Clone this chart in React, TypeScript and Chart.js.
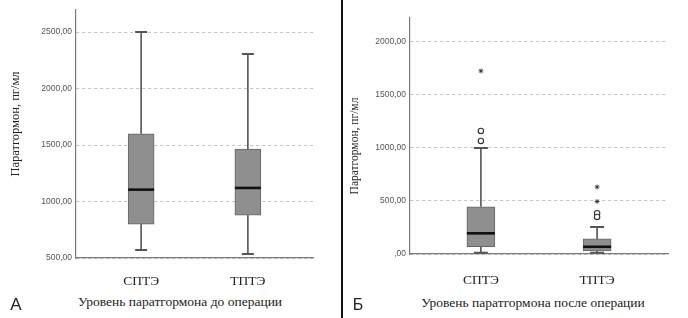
import React, { useEffect, useRef } from 'react';
import { Chart, registerables } from 'chart.js';

Chart.register(...registerables);

// ---------- data ----------
const categories = ['СПТЭ', 'ТПТЭ'];

// Panel A: before surgery
const beforeMin = [570, 535];
const beforeQ1 = [800, 880];
const beforeMedian = [1105, 1120];
const beforeQ3 = [1600, 1465];
const beforeMax = [2500, 2305];
const beforeTicks = [500, 1000, 1500, 2000, 2500];

// Panel Б: after surgery
const afterMin = [12, 12];
const afterQ1 = [70, 30];
const afterMedian = [195, 68];
const afterQ3 = [445, 142];
const afterMax = [1000, 255];
const afterCircles = [[1160, 1066], [385, 350]];
const afterStars = [[1726], [632, 495]];
const afterTicks = [0, 500, 1000, 1500, 2000];

const titleA = 'Уровень паратгормона до операции';
const titleB = 'Уровень паратгормона после операции';
const yTitle = 'Паратгормон, пг/мл';

// ---------- helpers ----------
const fmt = (v: number) => (v === 0 ? ',00' : v.toFixed(2).replace('.', ','));

const boxPlugin = {
  id: 'boxWhiskers',
  beforeDatasetsDraw(chart: any) {
    const o = chart.options.plugins.boxWhiskers;
    const { ctx } = chart;
    const x = chart.scales.x;
    const y = chart.scales.y;
    ctx.save();
    ctx.strokeStyle = '#555';
    o.min.forEach((_: number, i: number) => {
      const px = x.getPixelForValue(i + 1);
      const yMin = y.getPixelForValue(o.min[i]);
      const yQ1 = y.getPixelForValue(o.q1[i]);
      const yQ3 = y.getPixelForValue(o.q3[i]);
      const yMax = y.getPixelForValue(o.max[i]);
      ctx.lineWidth = 1.6;
      ctx.beginPath();
      ctx.moveTo(px, yQ3);
      ctx.lineTo(px, yMax);
      ctx.moveTo(px, yQ1);
      ctx.lineTo(px, yMin);
      ctx.stroke();
      ctx.lineWidth = 2;
      ctx.beginPath();
      ctx.moveTo(px - o.cap / 2, yMax);
      ctx.lineTo(px + o.cap / 2, yMax);
      ctx.moveTo(px - o.cap / 2, yMin);
      ctx.lineTo(px + o.cap / 2, yMin);
      ctx.stroke();
    });
    ctx.restore();
  },
  afterDatasetsDraw(chart: any) {
    const o = chart.options.plugins.boxWhiskers;
    const { ctx } = chart;
    const x = chart.scales.x;
    const y = chart.scales.y;
    ctx.save();
    ctx.strokeStyle = '#111';
    ctx.lineWidth = 2.6;
    o.median.forEach((m: number, i: number) => {
      const px = x.getPixelForValue(i + 1);
      const py = y.getPixelForValue(m);
      ctx.beginPath();
      ctx.moveTo(px - o.box / 2, py);
      ctx.lineTo(px + o.box / 2, py);
      ctx.stroke();
    });
    ctx.restore();
  },
};

function makeConfig(p: any) {
  const datasets: any[] = [
    {
      type: 'bar',
      data: categories.map((_, i) => ({ x: i + 1, y: [p.q1[i], p.q3[i]] })),
      backgroundColor: '#8f8f8f',
      borderColor: '#666',
      borderWidth: 1,
      borderSkipped: false,
      barThickness: p.box,
      order: 2,
    },
  ];
  if (p.circles) {
    datasets.push({
      type: 'scatter',
      data: p.circles.flatMap((arr: number[], i: number) => arr.map((v) => ({ x: i + 1, y: v }))),
      pointStyle: 'circle',
      pointRadius: 2.7,
      borderColor: '#333',
      backgroundColor: '#fff',
      borderWidth: 1.1,
      order: 1,
    });
    datasets.push({
      type: 'scatter',
      data: p.stars.flatMap((arr: number[], i: number) => arr.map((v) => ({ x: i + 1, y: v }))),
      pointStyle: 'star',
      pointRadius: 2.4,
      borderColor: '#333',
      backgroundColor: '#333',
      borderWidth: 0.9,
      order: 1,
    });
  }
  return {
    type: 'bar',
    data: { datasets },
    plugins: [boxPlugin],
    options: {
      responsive: false,
      animation: false,
      layout: { padding: { left: 0, right: p.padRight, top: p.padTop, bottom: 0 } },
      plugins: {
        legend: { display: false },
        tooltip: { enabled: false },
        boxWhiskers: {
          min: p.min, q1: p.q1, median: p.median, q3: p.q3, max: p.max,
          cap: p.cap, box: p.box,
        },
      },
      scales: {
        x: {
          type: 'linear',
          offset: false,
          min: 0.39,
          max: 2.61,
          grid: { display: false, offset: false },
          border: { display: true, color: '#7a7a7a', width: 1.2 },
          afterBuildTicks: (s: any) => {
            s.ticks = categories.map((_, i) => ({ value: i + 1 }));
          },
          afterFit: (s: any) => {
            s.height = p.xHeight;
          },
          ticks: {
            callback: (v: number) => categories[Math.round(v) - 1] ?? '',
            font: { family: 'Liberation Serif', size: 13.5 },
            color: '#222',
            padding: p.xPad,
            maxRotation: 0,
            autoSkip: false,
          },
        },
        y: {
          type: 'linear',
          min: p.yMin,
          max: p.yMax,
          afterBuildTicks: (s: any) => {
            s.ticks = p.ticks.map((v: number) => ({ value: v }));
          },
          afterFit: (s: any) => {
            s.width = p.yWidth;
          },
          grid: { color: '#c2c2c2', drawTicks: false, lineWidth: 1 },
          border: { display: true, color: '#7a7a7a', width: 1.2, dash: [3, 3] },
          ticks: {
            callback: (v: number) => fmt(v),
            font: { family: 'Liberation Sans', size: 8.5 },
            color: '#555',
            padding: 4,
          },
        },
      },
    },
  };
}

function BoxChart({ params, left, width, height }: any) {
  const ref = useRef<HTMLCanvasElement | null>(null);
  useEffect(() => {
    const c = new Chart(ref.current as any, makeConfig(params) as any);
    return () => c.destroy();
  }, []);
  return (
    <canvas
      ref={ref}
      width={width}
      height={height}
      style={{ position: 'absolute', left, top: 0, width, height }}
    />
  );
}

const serif = '"Liberation Serif", serif';
const sans = '"Liberation Sans", Arial, sans-serif';

export default function App() {
  const paramsA = {
    min: beforeMin, q1: beforeQ1, median: beforeMedian, q3: beforeQ3, max: beforeMax,
    ticks: beforeTicks, yMin: 500, yMax: 2695,
    box: 26, cap: 12, padRight: 27, padTop: 10, yWidth: 76, xHeight: 32, xPad: 7,
  };
  const paramsB = {
    min: afterMin, q1: afterQ1, median: afterMedian, q3: afterQ3, max: afterMax,
    circles: afterCircles, stars: afterStars,
    ticks: afterTicks, yMin: 0, yMax: 2225,
    box: 28, cap: 14, padRight: 20, padTop: 18, yWidth: 65, xHeight: 36, xPad: 10,
  };
  const textBase: any = { position: 'absolute', whiteSpace: 'nowrap', color: '#222', lineHeight: 1 };
  return (
    <div style={{ position: 'absolute', left: 0, top: 0, width: 688, height: 318, background: '#fff', overflow: 'hidden' }}>
      <BoxChart params={paramsA} left={0} width={340} height={290} />
      <BoxChart params={paramsB} left={345} width={343} height={290} />
      <div style={{ position: 'absolute', left: 341, top: 0, width: 2, height: 318, background: '#111' }} />
      <div style={{ ...textBase, fontFamily: serif, fontSize: 12.5, left: 15, top: 124, transform: 'translate(-50%, -50%) rotate(-90deg)' }}>{yTitle}</div>
      <div style={{ ...textBase, fontFamily: serif, fontSize: 11.5, left: 355, top: 146, transform: 'translate(-50%, -50%) rotate(-90deg)' }}>{yTitle}</div>
      <div style={{ ...textBase, fontFamily: serif, fontSize: 13.5, left: 180, top: 302, transform: 'translate(-50%, -50%)' }}>{titleA}</div>
      <div style={{ ...textBase, fontFamily: serif, fontSize: 13.5, left: 533, top: 303, transform: 'translate(-50%, -50%)' }}>{titleB}</div>
      <div style={{ ...textBase, fontFamily: sans, fontSize: 17, left: 16, top: 304, transform: 'translate(-50%, -50%)' }}>А</div>
      <div style={{ ...textBase, fontFamily: sans, fontSize: 16, left: 358, top: 305, transform: 'translate(-50%, -50%)' }}>Б</div>
    </div>
  );
}
